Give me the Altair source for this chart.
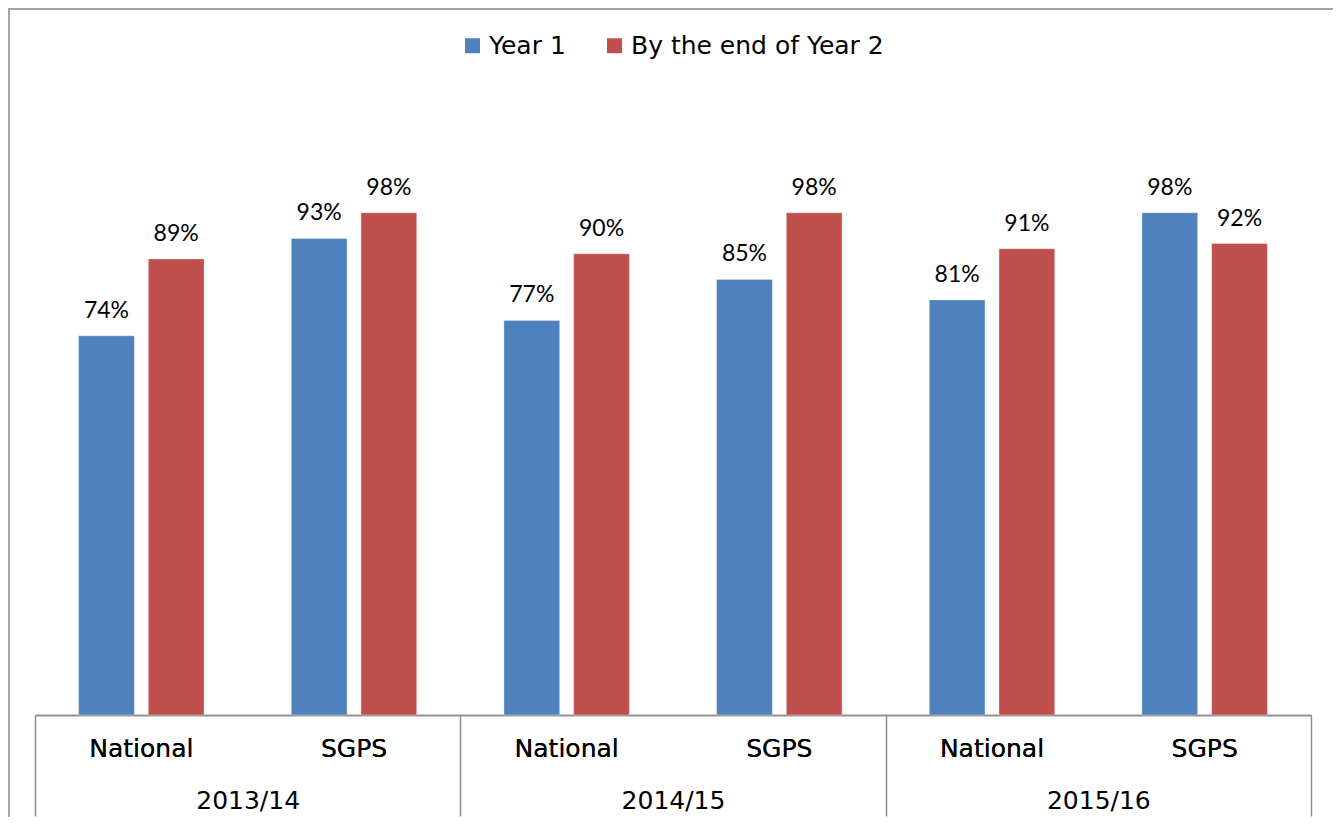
import altair as alt
import pandas as pd

years = ["2013/14", "2014/15", "2015/16"]
entities = ["National", "SGPS"]
series = ["Year 1", "By the end of Year 2"]
year1_values = [0.74, 0.93, 0.77, 0.85, 0.81, 0.98]
year2_values = [0.89, 0.98, 0.90, 0.98, 0.91, 0.92]
colors = ["#4F81BD", "#C0504D"]

rows = []
i = 0
for y in years:
    for e in entities:
        rows.append({"year": y, "entity": e, "cat": f"{y} {e}", "series": series[0], "value": year1_values[i]})
        rows.append({"year": y, "entity": e, "cat": f"{y} {e}", "series": series[1], "value": year2_values[i]})
        i += 1
df = pd.DataFrame(rows)
cat_order = [f"{y} {e}" for y in years for e in entities]

AXIS_FONT = "DejaVu Sans"
LABEL_FONT = "Lato"

x_cat = alt.X(
    "cat:N",
    sort=cat_order,
    scale=alt.Scale(paddingInner=0.41, paddingOuter=0.205),
    axis=alt.Axis(
        orient="bottom",
        title=None,
        ticks=False,
        labelAngle=0,
        labelExpr="split(datum.label, ' ')[1]",
        labelFont=AXIS_FONT,
        labelFontSize=25,
        labelColor="#000000",
        labelPadding=21,
        domainColor="#8c8c8c",
        domainWidth=1.5,
        grid=False,
    ),
)
y_val = alt.Y("value:Q", scale=alt.Scale(domain=[0, 1.2], nice=False), axis=None)
x_off = alt.XOffset("series:N", sort=series, scale=alt.Scale(paddingInner=0.2, paddingOuter=0))

bars = alt.Chart(df).mark_bar(stroke="#ffffff", strokeOpacity=0.35, strokeWidth=1).encode(
    x=x_cat,
    xOffset=x_off,
    y=y_val,
    color=alt.Color(
        "series:N",
        sort=series,
        scale=alt.Scale(domain=series, range=colors),
        legend=alt.Legend(
            title=None,
            orient="none",
            legendX=425,
            legendY=-67,
            direction="horizontal",
            symbolType="square",
            symbolSize=225,
            symbolStrokeWidth=0,
            labelFont=AXIS_FONT,
            labelFontSize=25,
            labelColor="#000000",
            labelOffset=4,
            labelLimit=500,
            columnPadding=36,
        ),
    ),
)

labels = alt.Chart(df).mark_text(
    font=LABEL_FONT, fontSize=23, color="#000000", baseline="alphabetic", dy=-18
).encode(
    x=x_cat,
    xOffset=x_off,
    y=y_val,
    text=alt.Text("value:Q", format=".0%"),
)

year_df = pd.DataFrame({"year": years})
year_axis = alt.Chart(year_df).mark_point(opacity=0).encode(
    x=alt.X(
        "year:N",
        sort=years,
        scale=alt.Scale(paddingInner=0, paddingOuter=0),
        axis=alt.Axis(
            orient="bottom",
            title=None,
            domain=False,
            ticks=True,
            tickBand="extent",
            tickSize=101,
            tickColor="#8c8c8c",
            tickWidth=1.5,
            labelAngle=0,
            labelFont=AXIS_FONT,
            labelFontSize=25,
            labelColor="#000000",
            labelPadding=-28,
            grid=False,
        ),
    ),
    y=alt.value(0),
)

frame = alt.Chart(alt.Data(values=[{"a": 1}])).mark_rect(
    fillOpacity=0, stroke="#a6a6a6", strokeWidth=2
).encode(
    x=alt.value(-26), x2=alt.value(1304), y=alt.value(-91), y2=alt.value(800)
)

chart = (
    alt.layer(frame, bars, labels, year_axis)
    .resolve_scale(x="independent")
    .properties(
        width=1276,
        height=615,
        autosize=alt.AutoSizeParams(type="none"),
        padding={"left": 27, "top": 92, "right": 22, "bottom": 102},
    )
    .configure_view(stroke=None)
)

chart.save("out.html", embed_options={"renderer": "svg", "actions": False})
